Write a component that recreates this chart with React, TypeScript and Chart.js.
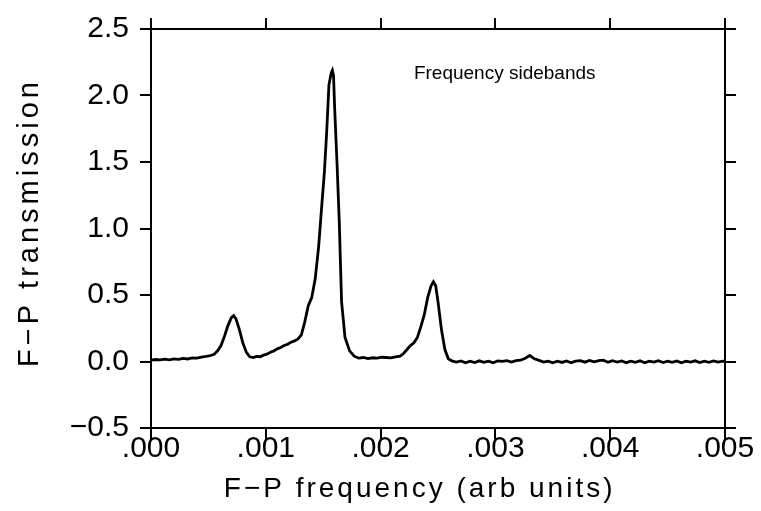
import React, { useEffect, useRef } from "react";
import { Chart, registerables } from "chart.js";

Chart.register(...registerables);

// ---- data ----
const freq: number[] = [
  0.0, 0.00004, 0.00008, 0.00012, 0.00016, 0.0002, 0.00024, 0.00028, 0.00032, 0.00036,
  0.0004, 0.00044, 0.00048, 0.00052, 0.00055, 0.00058, 0.00061, 0.00064, 0.00067, 0.0007,
  0.00072, 0.00074, 0.00077, 0.0008, 0.00083, 0.00086, 0.00089, 0.00092, 0.00095, 0.00098,
  0.00101, 0.00104, 0.00107, 0.0011, 0.00113, 0.00116, 0.00119, 0.00122, 0.00125, 0.00128,
  0.00131, 0.00134, 0.00137, 0.0014, 0.00143, 0.00146, 0.00149, 0.00151, 0.00153, 0.00155,
  0.00157, 0.00158, 0.00159, 0.0016, 0.00162, 0.00164, 0.00166, 0.00169, 0.00173, 0.00177,
  0.00181, 0.00185, 0.00189, 0.00193, 0.00197, 0.00201, 0.00205, 0.00209, 0.00213, 0.00217,
  0.0022, 0.00223, 0.00226, 0.00229, 0.00232, 0.00235, 0.00238, 0.00241, 0.00244, 0.00246,
  0.00248, 0.0025, 0.00253, 0.00256, 0.00259, 0.00262, 0.00266, 0.0027, 0.00274, 0.00278,
  0.00282, 0.00286, 0.0029, 0.00294, 0.00298, 0.00302, 0.00306, 0.0031, 0.00314, 0.00318,
  0.00322, 0.00326, 0.0033, 0.00334, 0.00338, 0.00342, 0.00346, 0.0035, 0.00354, 0.00358,
  0.00362, 0.00366, 0.0037, 0.00374, 0.00378, 0.00382, 0.00386, 0.0039, 0.00394, 0.00398,
  0.00402, 0.00406, 0.0041, 0.00414, 0.00418, 0.00422, 0.00426, 0.0043, 0.00434, 0.00438,
  0.00442, 0.00446, 0.0045, 0.00454, 0.00458, 0.00462, 0.00466, 0.0047, 0.00474, 0.00478,
  0.00482, 0.00486, 0.0049, 0.00494, 0.00498, 0.005,
];

const transmission: number[] = [
  0.01, 0.015, 0.012, 0.018, 0.013, 0.02, 0.016, 0.024, 0.019, 0.027,
  0.025, 0.033, 0.038, 0.045, 0.055, 0.08, 0.12, 0.19, 0.27, 0.33,
  0.345, 0.32, 0.24, 0.14, 0.07, 0.035, 0.03, 0.038, 0.036, 0.048,
  0.055, 0.07, 0.08, 0.095, 0.105, 0.12, 0.13, 0.145, 0.155, 0.17,
  0.2, 0.3, 0.42, 0.48, 0.62, 0.86, 1.2, 1.42, 1.72, 2.08,
  2.17, 2.19, 2.15, 1.9, 1.5, 1.05, 0.45, 0.18, 0.08, 0.04,
  0.025, 0.03, 0.022, 0.028, 0.025, 0.032, 0.03, 0.027, 0.034, 0.04,
  0.06, 0.09, 0.12, 0.14, 0.18, 0.26, 0.35, 0.48, 0.57, 0.6,
  0.57, 0.45, 0.24, 0.09, 0.02, 0.005, -0.005, 0.004, -0.01, 0.002,
  -0.008, 0.005, -0.006, 0.003, -0.01, 0.004, 0.001, 0.006, -0.004, 0.007,
  0.01, 0.025, 0.045, 0.02, 0.008, -0.004, 0.003, -0.01, 0.002, -0.007,
  0.004, -0.009, 0.003, 0.006, -0.005, 0.008, -0.003, 0.007, 0.01, -0.006,
  0.006, -0.004, 0.004, -0.009, 0.002, -0.006, 0.005, -0.01, 0.003, -0.005,
  0.006, -0.008, 0.002, -0.006, 0.004, -0.01, 0.003, -0.004, 0.005, -0.008,
  0.002, -0.006, 0.004, -0.005, 0.003, 0.0,
];

const xMin = 0;
const xMax = 0.005;
const xStep = 0.001;
const yMin = -0.5;
const yMax = 2.5;
const yStep = 0.5;

const xTitle = "F\u2212P frequency (arb units)";
const yTitle = "F\u2212P transmission";
const annotation = "Frequency sidebands";

const FONT = '"Liberation Sans", Arial, sans-serif';

const fmtX = (v: number) => v.toFixed(3).replace(/^0/, "");
const fmtY = (v: number) =>
  v < 0 ? "\u2212" + Math.abs(v).toFixed(1) : v.toFixed(1);

export default function App() {
  const ref = useRef<HTMLCanvasElement>(null);

  useEffect(() => {
    if (!ref.current) return;

    const textPlugin = {
      id: "customTexts",
      afterDraw(chart: any) {
        const ctx = chart.ctx as CanvasRenderingContext2D;
        const a = chart.chartArea;
        ctx.save();
        ctx.fillStyle = "#000";
        (ctx as any).letterSpacing = "3px";
        ctx.font = `28px ${FONT}`;
        ctx.textAlign = "center";
        ctx.textBaseline = "alphabetic";
        // x-axis title
        ctx.fillText(xTitle, a.left + (a.right - a.left) * 0.468, a.bottom + 69);
        // y-axis title
        ctx.save();
        (ctx as any).letterSpacing = "4px";
        ctx.font = `29px ${FONT}`;
        ctx.translate(a.left - 113, a.top + (a.bottom - a.top) * 0.485);
        ctx.rotate(-Math.PI / 2);
        ctx.fillText(yTitle, 0, 0);
        ctx.restore();
        // annotation
        (ctx as any).letterSpacing = "0px";
        ctx.font = `19px ${FONT}`;
        ctx.textAlign = "left";
        ctx.fillText(annotation, a.left + (a.right - a.left) * 0.458, a.top + 50);
        ctx.restore();
      },
    };

    const axisCommon = (extra: any) => ({
      type: "linear",
      grid: {
        drawOnChartArea: false,
        drawTicks: true,
        tickLength: 11,
        color: "#000",
        lineWidth: 2,
      },
      border: { display: true, color: "#000", width: 2 },
      ...extra,
    });

    const chart = new Chart(ref.current, {
      type: "line",
      data: {
        datasets: [
          {
            data: freq.map((x, i) => ({ x, y: transmission[i] })),
            borderColor: "#000",
            borderWidth: 2.8,
            pointRadius: 0,
            tension: 0,
            fill: false,
          },
        ],
      },
      plugins: [textPlugin],
      options: {
        responsive: false,
        animation: false,
        devicePixelRatio: 1,
        layout: { padding: 0 },
        plugins: {
          legend: { display: false },
          tooltip: { enabled: false },
        },
        scales: {
          x: axisCommon({
            position: "bottom",
            min: xMin,
            max: xMax,
            ticks: {
              stepSize: xStep,
              autoSkip: false,
              maxRotation: 0,
              padding: -8,
              color: "#000",
              font: { family: FONT, size: 30 },
              callback: (v: any) => fmtX(Number(v)),
            },
            afterFit: (s: any) => {
              s.height = 83;
            },
          }),
          x2: axisCommon({
            position: "top",
            min: xMin,
            max: xMax,
            ticks: { stepSize: xStep, display: false },
            afterFit: (s: any) => {
              s.height = 21;
            },
          }),
          y: axisCommon({
            position: "left",
            min: yMin,
            max: yMax,
            ticks: {
              stepSize: yStep,
              autoSkip: false,
              padding: 11,
              color: "#000",
              font: { family: FONT, size: 30 },
              callback: (v: any) => fmtY(Number(v)),
            },
            afterFit: (s: any) => {
              s.width = 151;
            },
          }),
          y2: axisCommon({
            position: "right",
            min: yMin,
            max: yMax,
            ticks: { stepSize: yStep, display: false },
            afterFit: (s: any) => {
              s.width = 36;
            },
          }),
        },
      } as any,
    } as any);

    return () => chart.destroy();
  }, []);

  return (
    <div style={{ position: "absolute", left: 0, top: 0, width: 761, height: 511, background: "#fff" }}>
      <canvas ref={ref} width={761} height={511} style={{ display: "block" }} />
    </div>
  );
}
